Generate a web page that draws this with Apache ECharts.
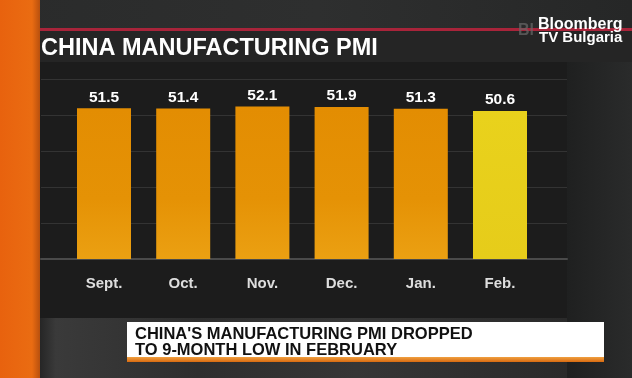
<!DOCTYPE html>
<html>
<head>
<meta charset="utf-8">
<script src="https://cdn.jsdelivr.net/npm/echarts@6/dist/echarts.min.js"></script>
<style>
html,body{margin:0;padding:0;background:#222;}
#chart{width:632px;height:378px;}
</style>
</head>
<body>
<div id="chart"></div>
<script>
// ---- data ----
const categories = ['Sept.', 'Oct.', 'Nov.', 'Dec.', 'Jan.', 'Feb.'];
const pmiValues = [51.5, 51.4, 52.1, 51.9, 51.3, 50.6];
const highlightIndex = 5;
const titleText = 'CHINA MANUFACTURING PMI';
const captionLines = ["CHINA'S MANUFACTURING PMI DROPPED", 'TO 9-MONTH LOW IN FEBRUARY'];
const logoLines = ['Bloomberg', 'TV Bulgaria'];
const yMin = 0, yMax = 61.5, yStep = 12.3;

const FONT = '"Liberation Sans", Arial, Helvetica, sans-serif';
const chart = echarts.init(document.getElementById('chart'), null, {renderer: 'canvas'});

const barData = pmiValues.map((v, i) => ({
  value: v,
  itemStyle: {
    color: i === highlightIndex
      ? new echarts.graphic.LinearGradient(0, 0, 0, 1, [{offset: 0, color: '#e9d21c'}, {offset: 1, color: '#e6cc1a'}])
      : new echarts.graphic.LinearGradient(0, 0, 0, 1, [{offset: 0, color: '#e38d02'}, {offset: 0.6, color: '#e59205'}, {offset: 1, color: '#eba012'}])
  }
}));

chart.setOption({
  backgroundColor: '#232323',
  animation: false,
  graphic: [
    {type: 'rect', z: -10, shape: {x: 0, y: 0, width: 632, height: 30},
      style: {fill: new echarts.graphic.LinearGradient(0, 0, 1, 0, [{offset: 0, color: '#2a2b2b'}, {offset: 0.5, color: '#2e2f2f'}, {offset: 1, color: '#262727'}])}},
    {type: 'rect', z: -10, shape: {x: 567, y: 30, width: 65, height: 348},
      style: {fill: new echarts.graphic.LinearGradient(0, 0, 1, 0, [{offset: 0, color: '#1f2020'}, {offset: 1, color: '#2a2b2b'}])}},
    {type: 'rect', z: -10, shape: {x: 40, y: 318, width: 527, height: 60},
      style: {fill: new echarts.graphic.LinearGradient(0, 0, 1, 0, [{offset: 0, color: '#262626'}, {offset: 0.03, color: '#3a3a3a'}, {offset: 0.3, color: '#2e2e2e'}, {offset: 0.6, color: '#363636'}, {offset: 1, color: '#2a2a2a'}])}},
    {type: 'rect', z: -9, shape: {x: 40, y: 62, width: 527, height: 256}, style: {fill: '#1c1c1c'}},
    {type: 'rect', z: -8, shape: {x: 40, y: 31, width: 592, height: 31}, style: {fill: '#252525'}},
    {type: 'rect', z: -7, shape: {x: 40, y: 28, width: 592, height: 3}, style: {fill: '#a8243a'}},
    {type: 'rect', z: -6, shape: {x: 0, y: 0, width: 40, height: 378},
      style: {fill: new echarts.graphic.LinearGradient(0, 0, 1, 0, [{offset: 0, color: '#e8620e'}, {offset: 0.8, color: '#ea6c12'}, {offset: 1, color: '#b8500e'}])}},
    {type: 'text', z: 10, left: 41, top: 37,
      style: {text: titleText, fill: '#ffffff', font: 'bold 23.5px ' + FONT}},
    {type: 'text', z: 9, left: 518, top: 23,
      style: {text: 'Bl', fill: '#6a6a6a', opacity: 0.7, font: 'bold 16px ' + FONT}},
    {type: 'text', z: 10, left: 538, top: 17,
      style: {text: logoLines[0], fill: '#ffffff', font: 'bold 16px ' + FONT}},
    {type: 'text', z: 10, left: 539, top: 30,
      style: {text: logoLines[1], fill: '#ffffff', font: 'bold 15px ' + FONT}},
    {type: 'rect', z: 10, shape: {x: 127, y: 322, width: 477, height: 36}, style: {fill: '#ffffff'}},
    {type: 'rect', z: 10, shape: {x: 127, y: 357, width: 477, height: 5},
      style: {fill: new echarts.graphic.LinearGradient(0, 0, 0, 1, [{offset: 0, color: '#f0a040'}, {offset: 1, color: '#d86a10'}])}},
    {type: 'text', z: 11, left: 135, top: 326,
      style: {text: captionLines.join('\n'), fill: '#111111', font: 'bold 16.5px ' + FONT, lineHeight: 15.5}}
  ],
  grid: [
    {left: 41, right: 65, top: 79, bottom: 119},
    {left: 64.4, width: 475.2, top: 79, bottom: 119}
  ],
  xAxis: [
    {gridIndex: 0, type: 'value', min: 0, max: 1, axisLabel: {show: false}, axisTick: {show: false},
      splitLine: {show: false}, axisLine: {show: true, onZero: false, lineStyle: {color: '#4a4a4a', width: 2}}},
    {gridIndex: 1, type: 'category', data: categories, axisLine: {show: false}, axisTick: {show: false},
      axisLabel: {color: '#dedede', fontSize: 15, fontWeight: 'bold', fontFamily: FONT, margin: 17}}
  ],
  yAxis: [
    {gridIndex: 0, type: 'value', min: yMin, max: yMax, interval: yStep, axisLabel: {show: false},
      axisLine: {show: false}, axisTick: {show: false}, splitLine: {show: true, lineStyle: {color: '#333333', width: 1}}},
    {gridIndex: 1, type: 'value', min: yMin, max: yMax, interval: yStep, axisLabel: {show: false},
      axisLine: {show: false}, axisTick: {show: false}, splitLine: {show: false}}
  ],
  series: [{
    type: 'bar', xAxisIndex: 1, yAxisIndex: 1, barWidth: 54, data: barData,
    label: {show: true, position: 'top', distance: 3, color: '#ffffff', fontSize: 15.5, fontWeight: 'bold', fontFamily: FONT}
  }]
});
</script>
</body>
</html>
